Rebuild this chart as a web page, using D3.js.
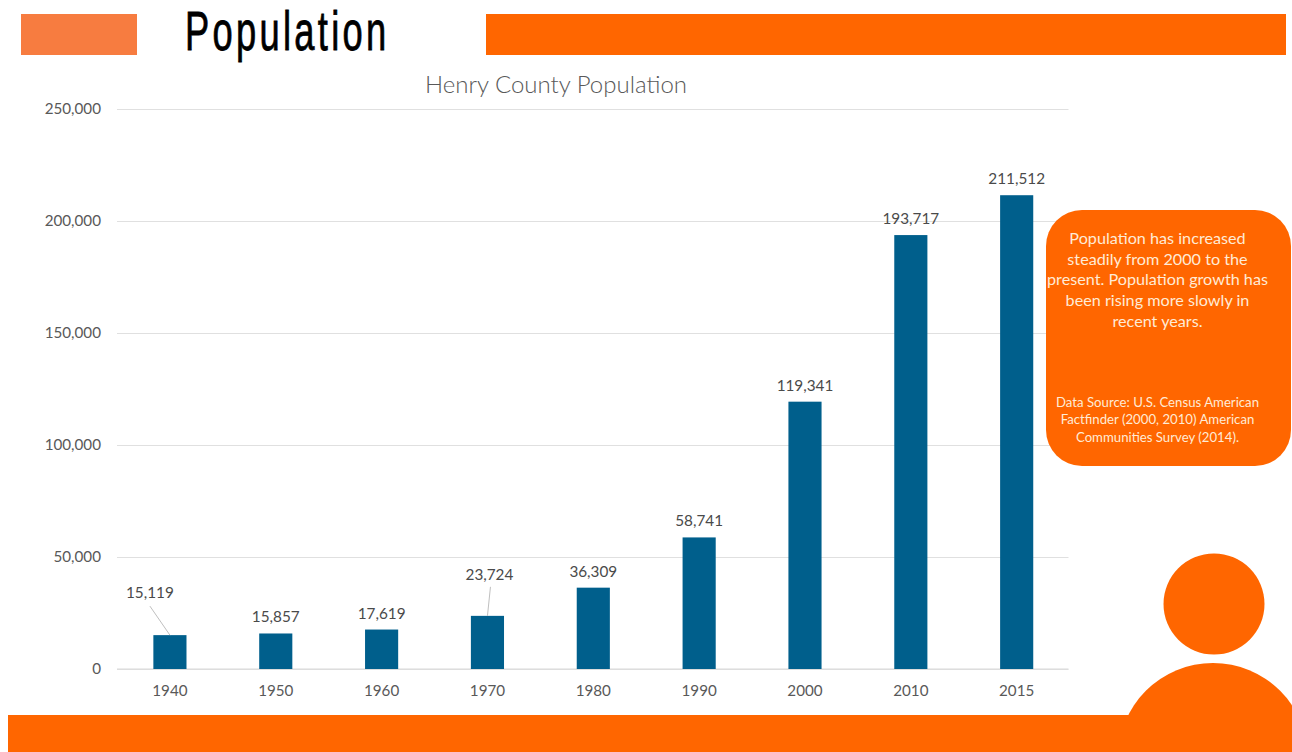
<!DOCTYPE html>
<html><head><meta charset="utf-8">
<script src="https://cdn.jsdelivr.net/npm/d3@7"></script>
<style>html,body{margin:0;padding:0;background:#fff;overflow:hidden}svg{display:block}</style>
</head><body><svg id="c" width="1292" height="752"></svg>
<script>
const years = ["1940","1950","1960","1970","1980","1990","2000","2010","2015"];
const population = [15119,15857,17619,23724,36309,58741,119341,193717,211512];
const yTicks = [0,50000,100000,150000,200000,250000];
const noteLines = ["Population has increased","steadily from 2000 to the","present. Population growth has","been rising more slowly in","recent years."];
const sourceLines = ["Data Source: U.S. Census American","Factfinder (2000, 2010) American","Communities Survey (2014)."];

const orange = "#FF6600", font = "Lato, 'Open Sans', sans-serif";
const svg = d3.select("#c");
const x = d3.scaleBand().domain(years).range([117,1069.6]).paddingInner(0.687).paddingOuter(0.3435);
const y = d3.scaleLinear().domain([0,250000]).range([669,109]);
const fmt = d3.format(",");

// decorative header
svg.append("rect").attr("x",21).attr("y",14).attr("width",116).attr("height",41).attr("fill","#F77C40");
svg.append("rect").attr("x",486).attr("y",14).attr("width",800).attr("height",41).attr("fill",orange);
svg.append("text").attr("transform","translate(185,50) scale(0.66,1)")
  .attr("font-family","'Liberation Sans',sans-serif")
  .attr("font-size",55).attr("letter-spacing",5).attr("fill","#000").attr("stroke","#000").attr("stroke-width",0.8).text("Population");
svg.append("text").attr("x",556).attr("y",93).attr("text-anchor","middle").attr("font-family",font).attr("font-weight",300)
  .attr("font-size",24).attr("fill","#595959").text("Henry County Population");

// axes
const yAxis = svg.append("g").attr("transform","translate(117,0)")
  .call(d3.axisLeft(y).tickValues(yTicks).tickSize(-951.5).tickPadding(16).tickFormat(fmt));
yAxis.select(".domain").remove();
yAxis.selectAll("line").attr("stroke","#E0E0E0").attr("stroke-width",1);
yAxis.selectAll("text").attr("font-family",font).attr("font-size",15.2).attr("fill","#595959");
const xAxis = svg.append("g").attr("transform","translate(0,669)")
  .call(d3.axisBottom(x).tickSize(0).tickPadding(16));
xAxis.select(".domain").attr("stroke","#D9D9D9").attr("d","M117,0H1068.5");
xAxis.selectAll("text").attr("font-family",font).attr("font-size",15.2).attr("fill","#595959");

// bars
svg.selectAll(".bar").data(population).join("rect").attr("class","bar")
  .attr("x",(d,i)=>x(years[i])).attr("width",x.bandwidth())
  .attr("y",d=>y(d)).attr("height",d=>y(0)-y(d)).attr("fill","#005F8C");

// labels; 1940 and 1970 are pulled away from their bars with a leader line
const labelShift = {"1940":[-20,-37],"1970":[2,-36]};
svg.selectAll(".val").data(population).join("text").attr("class","val")
  .attr("x",(d,i)=>x(years[i])+x.bandwidth()/2+(labelShift[years[i]]||[0,0])[0])
  .attr("y",(d,i)=>y(d)+(labelShift[years[i]]||[0,-11])[1])
  .attr("text-anchor","middle").attr("font-family",font).attr("font-size",15.3).attr("fill","#4A4A4A")
  .text(d=>fmt(d));
svg.append("line").attr("x1",x("1940")+x.bandwidth()/2-20).attr("y1",y(15119)-29)
  .attr("x2",x("1940")+x.bandwidth()/2).attr("y2",y(15119)).attr("stroke","#BFBFBF");
svg.append("line").attr("x1",x("1970")+x.bandwidth()/2+3).attr("y1",y(23724)-29)
  .attr("x2",x("1970")+x.bandwidth()/2).attr("y2",y(23724)).attr("stroke","#BFBFBF");

// callout
svg.append("rect").attr("x",1046).attr("y",210).attr("width",245).attr("height",256).attr("rx",36).attr("fill",orange);
svg.selectAll(".note").data(noteLines).join("text").attr("class","note")
  .attr("x",1157.5).attr("y",(d,i)=>243.7+i*20.8).attr("text-anchor","middle")
  .attr("font-family",font).attr("font-size",16.2).attr("fill","#FFEBD6").text(d=>d);
svg.selectAll(".src").data(sourceLines).join("text").attr("class","src")
  .attr("x",1157.5).attr("y",(d,i)=>406.5+i*17.6).attr("text-anchor","middle")
  .attr("font-family",font).attr("font-size",13.2).attr("fill","#FFEBD6").text(d=>d);

// person icon and footer
svg.append("circle").attr("cx",1214).attr("cy",604).attr("r",50.5).attr("fill",orange);
svg.append("circle").attr("cx",1213).attr("cy",758).attr("r",95).attr("fill",orange);
svg.append("rect").attr("x",8).attr("y",715).attr("width",1284).attr("height",37).attr("fill",orange);
</script></body></html>
